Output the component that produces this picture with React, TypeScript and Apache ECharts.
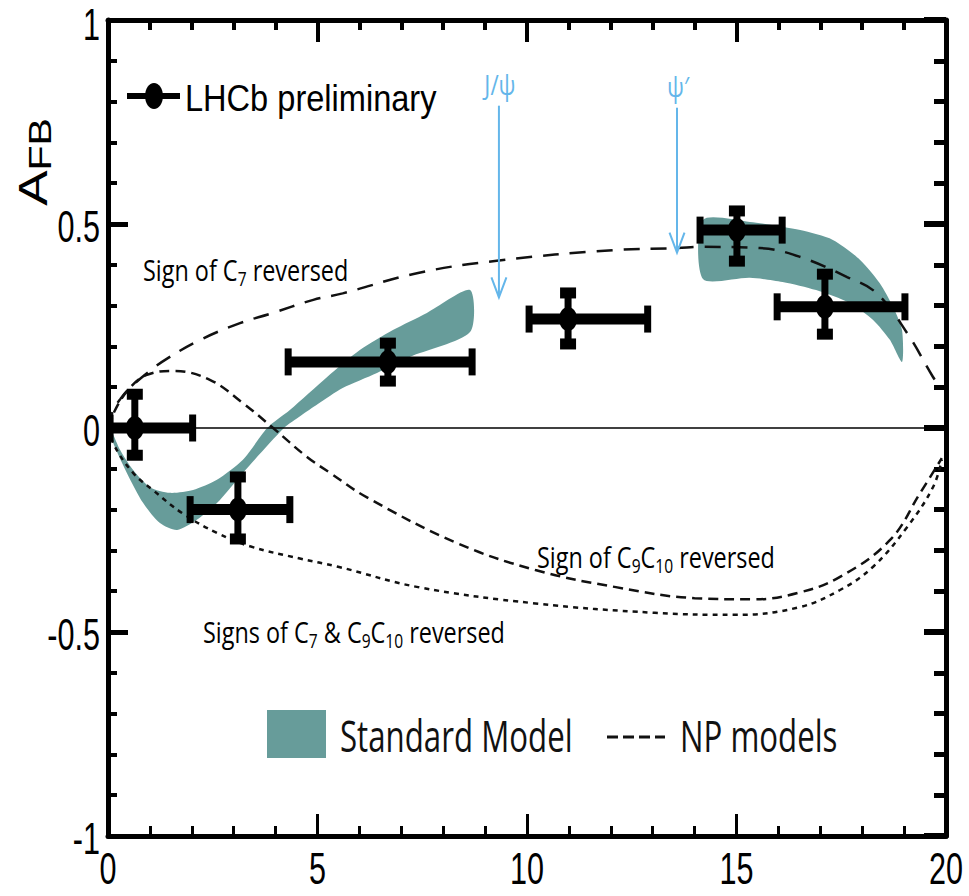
import React, { useEffect, useRef } from 'react';
import * as echarts from 'echarts';

// ---- LHCb data points (q2 centre, AFB, and error ranges) ----
const lhcbQ2 = [0.64, 3.1, 6.68, 10.98, 15.01, 17.11];
const lhcbQ2Low = [0.05, 1.96, 4.3, 10.05, 14.13, 15.97];
const lhcbQ2High = [2.02, 4.34, 8.69, 12.88, 16.09, 19.02];
const lhcbAfb = [0.0, -0.2, 0.162, 0.267, 0.485, 0.297];
const lhcbAfbLow = [-0.067, -0.272, 0.115, 0.206, 0.409, 0.23];
const lhcbAfbHigh = [0.083, -0.12, 0.208, 0.331, 0.532, 0.377];

// ---- Standard Model band edges ----
const smBand1Upper = [
  [0.1, -0.012], [0.29, -0.054], [0.6, -0.103], [1.0, -0.145], [1.48, -0.159], [2.03, -0.152],
  [2.6, -0.127], [3.22, -0.078], [3.8, 0.0], [4.34, 0.044], [5.23, 0.125], [6.01, 0.191],
  [6.8, 0.24], [7.61, 0.282], [8.64, 0.338],
];
const smBand1Lower = [
  [0.1, -0.03], [0.45, -0.11], [0.84, -0.184], [1.24, -0.233], [1.65, -0.25], [2.12, -0.225],
  [2.6, -0.184], [3.22, -0.11], [4.2, 0.0], [4.6, 0.03], [5.0, 0.058], [5.6, 0.098],
  [6.42, 0.135], [7.2, 0.174], [8.64, 0.235],
];
const smBand2Upper = [
  [14.2, 0.51], [15.32, 0.505], [16.52, 0.485], [17.3, 0.461], [17.95, 0.412],
  [18.42, 0.355], [18.74, 0.296], [18.95, 0.24],
];
const smBand2Lower = [
  [14.2, 0.365], [15.32, 0.368], [16.1, 0.358], [16.9, 0.338], [17.71, 0.306],
  [18.26, 0.265], [18.66, 0.216], [18.95, 0.162],
];

// ---- New-physics model curves ----
const c7Reversed = [
  [0.05, 0.0], [0.1, 0.037], [0.3, 0.072], [0.52, 0.098], [1.0, 0.14], [1.41, 0.17],
  [2.2, 0.216], [3.15, 0.257], [3.87, 0.28], [4.9, 0.314], [5.6, 0.33], [7.4, 0.38],
  [9.28, 0.41], [12.05, 0.436], [13.58, 0.441], [14.13, 0.444], [15.56, 0.441],
  [16.5, 0.42], [17.64, 0.37], [18.35, 0.33], [19.07, 0.233], [19.69, 0.125], [19.8, 0.11],
];
const c9c10Reversed = [
  [0.05, 0.0], [0.15, 0.04], [0.52, 0.098], [0.93, 0.13], [1.55, 0.14], [2.43, 0.118],
  [3.22, 0.061], [3.94, 0.0], [4.75, -0.071], [5.3, -0.11], [6.18, -0.17], [8.33, -0.282],
  [10.2, -0.348], [12.12, -0.39], [14.0, -0.417], [15.4, -0.42], [16.47, -0.404],
  [17.47, -0.365], [18.66, -0.275], [19.38, -0.16], [19.9, -0.074],
];
const c7c9c10Reversed = [
  [0.05, 0.0], [0.12, -0.037], [0.6, -0.11], [1.07, -0.152], [1.79, -0.21], [2.6, -0.257],
  [3.39, -0.29], [4.58, -0.32], [5.49, -0.34], [7.4, -0.39], [10.2, -0.43], [13.05, -0.453],
  [14.94, -0.458], [16.47, -0.44], [17.47, -0.397], [18.26, -0.34], [19.07, -0.243],
  [19.69, -0.145], [19.9, -0.078],
];
const zeroLine = [[0, 0], [20, 0]];

// ---- Charmonium resonance arrows ----
const resonanceNames = ['J/ψ', 'ψ′'];
const resonanceQ2 = [9.33, 13.58];
const resonanceTop = [0.79, 0.785];
const resonanceTip = [0.32, 0.43];

// ---- Tick labels ----
const xTickValues = [0, 5, 10, 15, 20];
const xTickLabels = ['0', '5', '10', '15', '20'];
const yTickValues = [-1, -0.5, 0, 0.5, 1];
const yTickLabels = ['-1', '-0.5', '0', '0.5', '1'];

const TEAL = '#679c9a';
const BLUE = '#64b6ea';
const HELV = "'Liberation Sans', Arial, sans-serif";
const MYRIAD = "'Open Sans', 'Noto Sans', sans-serif";

export default function App() {
  const ref = useRef<HTMLDivElement>(null);
  useEffect(() => {
    if (!ref.current) return;
    const chart = echarts.init(ref.current, null, { renderer: 'svg' });
    const smBands = [[smBand1Upper, smBand1Lower], [smBand2Upper, smBand2Lower]];
    const axisCommon = {
      type: 'value' as const,
      axisLine: { show: true, onZero: false, lineStyle: { color: '#000', width: 5 } },
      splitLine: { show: false },
      axisLabel: { show: false },
    };
    const rich = (fs: number) => ({
      n: { fontSize: fs, fontFamily: MYRIAD, lineHeight: fs * 1.3, color: '#111' },
      s: { fontSize: Math.round(fs * 0.68), fontFamily: MYRIAD, lineHeight: Math.round(fs * 0.68), verticalAlign: 'bottom', color: '#111' },
    });
    chart.setOption({
      animation: false,
      backgroundColor: '#fff',
      grid: { left: 108, right: 23, top: 20, bottom: 60, containLabel: false },
      xAxis: [
        {
          ...axisCommon, position: 'bottom', min: 0, max: 20, interval: 5,
          axisTick: { show: true, inside: true, length: 22, lineStyle: { color: '#000', width: 3 } },
          minorTick: { show: true, splitNumber: 5, length: 10, lineStyle: { color: '#000', width: 3 } },
        },
        {
          ...axisCommon, position: 'top', min: 0, max: 20, interval: 5,
          axisTick: { show: true, inside: true, length: 22, lineStyle: { color: '#000', width: 4 } },
          minorTick: { show: true, splitNumber: 5, length: 10, lineStyle: { color: '#000', width: 4 } },
        },
      ],
      yAxis: [
        {
          ...axisCommon, position: 'left', min: -1, max: 1, interval: 0.5,
          axisTick: { show: true, inside: true, length: 20, lineStyle: { color: '#000', width: 5 } },
          minorTick: { show: true, splitNumber: 5, length: 9, lineStyle: { color: '#000', width: 4 } },
        },
        {
          ...axisCommon, position: 'right', min: -1, max: 1, interval: 0.5,
          axisTick: { show: true, inside: true, length: 22, lineStyle: { color: '#000', width: 6 } },
          minorTick: { show: true, splitNumber: 5, length: 12, lineStyle: { color: '#000', width: 5 } },
        },
      ],
      series: [
        {
          type: 'custom', name: 'Standard Model', z: 1,
          data: smBands.map((_, i) => [i, 0]),
          renderItem: (params: any, api: any) => {
            const [up, lo] = smBands[params.dataIndex];
            const pts = up.map((p) => api.coord(p)).concat(lo.slice().reverse().map((p) => api.coord(p)));
            return { type: 'polygon', shape: { points: pts, smooth: 0.25 }, style: { fill: TEAL } };
          },
        },
        {
          type: 'line', data: zeroLine, symbol: 'none', z: 2,
          lineStyle: { color: '#000', width: 1.5 },
        },
        {
          type: 'line', name: 'Sign of C7 reversed', data: c7Reversed, symbol: 'none', smooth: 0.4, z: 3,
          lineStyle: { color: '#111', width: 2.5, type: [16, 11] },
        },
        {
          type: 'line', name: 'Sign of C9C10 reversed', data: c9c10Reversed, symbol: 'none', smooth: 0.4, z: 3,
          lineStyle: { color: '#111', width: 2.5, type: [10, 6] },
        },
        {
          type: 'line', name: 'Signs of C7 & C9C10 reversed', data: c7c9c10Reversed, symbol: 'none', smooth: 0.4, z: 3,
          lineStyle: { color: '#111', width: 2.5, type: [5, 5] },
        },
        {
          type: 'custom', name: 'resonances', z: 4,
          data: resonanceQ2.map((q, i) => [q, resonanceTop[i], resonanceTip[i]]),
          renderItem: (params: any, api: any) => {
            const top = api.coord([api.value(0), api.value(1)]);
            const tip = api.coord([api.value(0), api.value(2)]);
            return {
              type: 'group',
              children: [
                { type: 'line', shape: { x1: top[0], y1: top[1], x2: tip[0], y2: tip[1] }, style: { stroke: BLUE, lineWidth: 2 } },
                { type: 'polyline', shape: { points: [[tip[0] - 7.5, tip[1] - 20], [tip[0], tip[1]], [tip[0] + 7.5, tip[1] - 20]] }, style: { stroke: BLUE, lineWidth: 2, fill: 'none' } },
                {
                  type: 'text', x: top[0] + 1, y: top[1] - 22, scaleX: 0.8,
                  style: { text: resonanceNames[params.dataIndex], fill: BLUE, fontSize: 28, fontFamily: MYRIAD, textAlign: 'center', align: 'center', textVerticalAlign: 'middle', verticalAlign: 'middle' },
                },
              ],
            };
          },
        },
        {
          type: 'custom', name: 'LHCb preliminary', z: 5,
          data: lhcbQ2.map((q, i) => [q, lhcbAfb[i], lhcbQ2Low[i], lhcbQ2High[i], lhcbAfbLow[i], lhcbAfbHigh[i]]),
          renderItem: (params: any, api: any) => {
            const c = api.coord([api.value(0), api.value(1)]);
            const xl = api.coord([api.value(2), api.value(1)])[0];
            const xh = api.coord([api.value(3), api.value(1)])[0];
            const yl = api.coord([api.value(0), api.value(4)])[1];
            const yh = api.coord([api.value(0), api.value(5)])[1];
            const st = { fill: '#000' };
            return {
              type: 'group',
              children: [
                { type: 'rect', shape: { x: xl, y: c[1] - 5.5, width: xh - xl, height: 11 }, style: st },
                { type: 'rect', shape: { x: xl - 3.5, y: c[1] - 13.5, width: 7, height: 27 }, style: st },
                { type: 'rect', shape: { x: xh - 3.5, y: c[1] - 13.5, width: 7, height: 27 }, style: st },
                { type: 'rect', shape: { x: c[0] - 3.5, y: yh, width: 7, height: yl - yh }, style: st },
                { type: 'rect', shape: { x: c[0] - 8, y: yh - 5.5, width: 16, height: 11 }, style: st },
                { type: 'rect', shape: { x: c[0] - 8, y: yl - 5.5, width: 16, height: 11 }, style: st },
                { type: 'ellipse', shape: { cx: c[0], cy: c[1], rx: 9, ry: 12 }, style: st },
              ],
            };
          },
        },
      ],
    });

    // tick labels placed through the axes' own scales
    const tickLabelGraphics: any[] = [];
    yTickValues.forEach((v, i) => {
      const p = chart.convertToPixel({ xAxisIndex: 0, yAxisIndex: 0 }, [0, v]) as number[];
      tickLabelGraphics.push({
        type: 'text', x: p[0] - 8, y: Math.max(p[1] + 2, 24), scaleX: 0.68, z: 10,
        style: { text: yTickLabels[i], fontSize: 45, fontFamily: HELV, fill: '#000', textAlign: 'right', align: 'right', textVerticalAlign: 'middle', verticalAlign: 'middle' },
      });
    });
    xTickValues.forEach((v, i) => {
      const p = chart.convertToPixel({ xAxisIndex: 0, yAxisIndex: 0 }, [v, -1]) as number[];
      tickLabelGraphics.push({
        type: 'text', x: p[0], y: p[1] + 32, scaleX: 0.68, z: 10,
        style: { text: xTickLabels[i], fontSize: 45, fontFamily: HELV, fill: '#000', textAlign: 'center', align: 'center', textVerticalAlign: 'middle', verticalAlign: 'middle' },
      });
    });

    chart.setOption({
      graphic: [
        ...tickLabelGraphics,
        // y axis title
        {
          type: 'text', x: 33, y: 162, rotation: Math.PI / 2, scaleY: 0.75, z: 10,
          style: {
            text: '{a|A}{b|FB}', textAlign: 'center', align: 'center', textVerticalAlign: 'middle', verticalAlign: 'middle',
            rich: {
              a: { fontSize: 53, fontFamily: HELV, lineHeight: 60, color: '#000' },
              b: { fontSize: 41, fontFamily: HELV, lineHeight: 41, verticalAlign: 'bottom', color: '#000' },
            },
          },
        },
        // LHCb legend entry
        { type: 'line', shape: { x1: 127, y1: 96, x2: 180, y2: 96 }, style: { stroke: '#000', lineWidth: 6 }, z: 10 },
        { type: 'ellipse', shape: { cx: 154, cy: 96, rx: 9, ry: 13 }, style: { fill: '#000' }, z: 10 },
        {
          type: 'text', x: 185, y: 98, scaleX: 0.88, z: 10,
          style: { text: 'LHCb preliminary', fontSize: 37, fontFamily: HELV, fill: '#000', textAlign: 'left', align: 'left', textVerticalAlign: 'middle', verticalAlign: 'middle' },
        },
        // curve annotations
        {
          type: 'text', x: 143, y: 269, scaleX: 0.78, z: 10,
          style: { text: '{n|Sign of C}{s|7}{n| reversed}', rich: rich(30), textAlign: 'left', align: 'left', textVerticalAlign: 'middle', verticalAlign: 'middle' },
        },
        {
          type: 'text', x: 537, y: 556, scaleX: 0.78, z: 10,
          style: { text: '{n|Sign of C}{s|9}{n|C}{s|10}{n| reversed}', rich: rich(30), textAlign: 'left', align: 'left', textVerticalAlign: 'middle', verticalAlign: 'middle' },
        },
        {
          type: 'text', x: 203, y: 631, scaleX: 0.78, z: 10,
          style: { text: '{n|Signs of C}{s|7}{n| & C}{s|9}{n|C}{s|10}{n| reversed}', rich: rich(30), textAlign: 'left', align: 'left', textVerticalAlign: 'middle', verticalAlign: 'middle' },
        },
        // bottom legend
        { type: 'rect', shape: { x: 267, y: 710, width: 59, height: 48 }, style: { fill: TEAL }, z: 10 },
        {
          type: 'text', x: 340, y: 735, scaleX: 0.71, z: 10,
          style: { text: 'Standard Model', fontSize: 44, fontFamily: MYRIAD, fill: '#111', textAlign: 'left', align: 'left', textVerticalAlign: 'middle', verticalAlign: 'middle' },
        },
        { type: 'line', shape: { x1: 607, y1: 737, x2: 665, y2: 737 }, style: { stroke: '#111', lineWidth: 3, lineDash: [11, 5] }, z: 10 },
        {
          type: 'text', x: 680, y: 735, scaleX: 0.71, z: 10,
          style: { text: 'NP models', fontSize: 44, fontFamily: MYRIAD, fill: '#111', textAlign: 'left', align: 'left', textVerticalAlign: 'middle', verticalAlign: 'middle' },
        },
      ],
    });
    return () => chart.dispose();
  }, []);
  return <div ref={ref} style={{ position: 'absolute', left: 0, top: 0, width: 969, height: 896 }} />;
}
